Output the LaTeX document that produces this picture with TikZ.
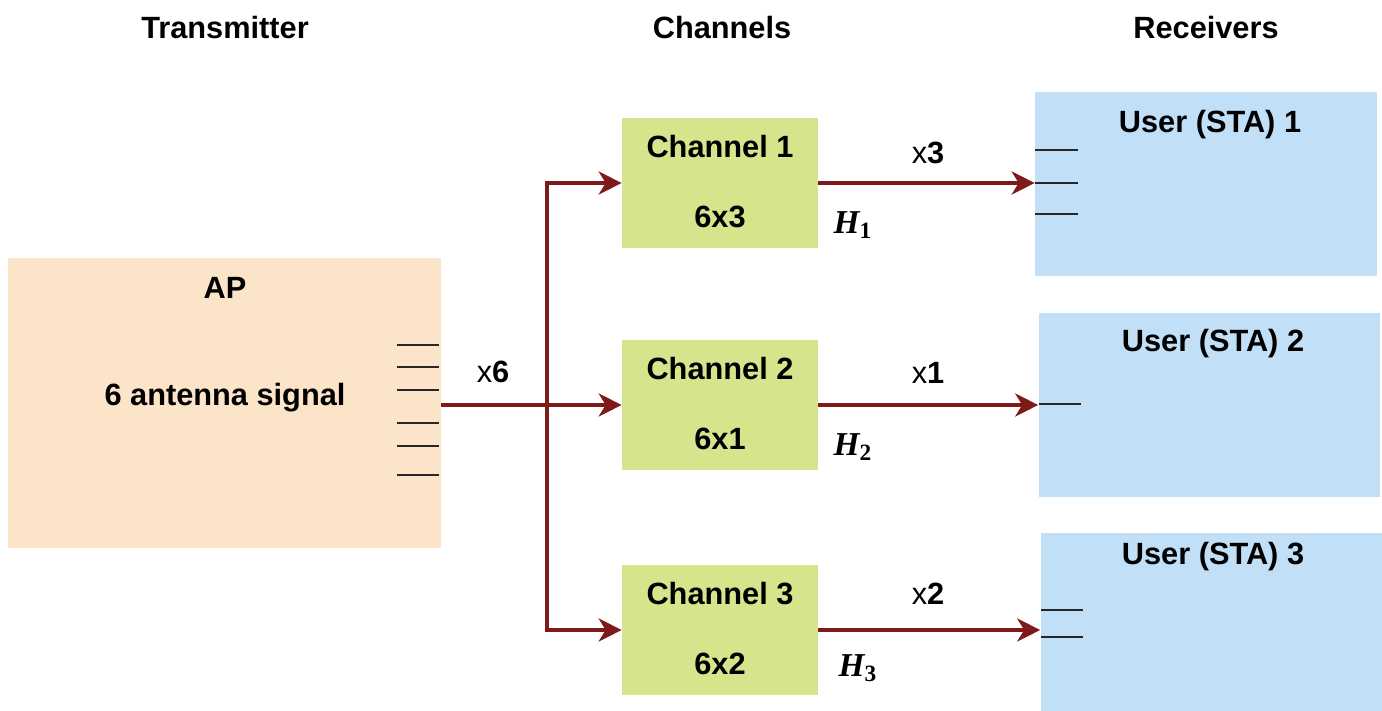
\documentclass[tikz,border=0pt]{standalone}
\usepackage{fontspec}
\setmainfont{Liberation Sans}
\newfontfamily\hfont{Liberation Serif}
\usetikzlibrary{arrows.meta}

\definecolor{apfill}{HTML}{FCE4C9}
\definecolor{chfill}{HTML}{D7E48B}
\definecolor{stafill}{HTML}{C1DFF6}
\definecolor{linkred}{HTML}{7E1A1A}

\newcommand{\hmat}[1]{{\hfont\bfseries\itshape H}\textsubscript{\hfont\bfseries #1}}

\tikzset{
  apbox/.style={fill=apfill, draw=none, minimum width=8.66cm, minimum height=5.8cm},
  chbox/.style={fill=chfill, draw=none, minimum width=3.92cm, minimum height=2.6cm},
  stabox/.style={fill=stafill, draw=none, minimum width=6.84cm, minimum height=#1},
  stabox/.default=3.68cm,
  link/.style={draw=linkred, line width=2.2pt},
  antenna/.style={draw=black!85, line width=1.2pt},
  hlabel/.style={font=\fontsize{19}{20}\selectfont}
}

\begin{document}
\begin{tikzpicture}[x=0.02cm, y=-0.02cm,
    >={Stealth[length=0.46cm, width=0.46cm, inset=0.14cm]},
    font=\fontsize{17.5}{20}\selectfont\bfseries]
  \useasboundingbox (0,0) rectangle (1382,710);

  % 1. titles
  \node (ttx) at (225,28) {Transmitter};
  \node (tch) at (722,28) {Channels};
  \node (trx) at (1206,28) {Receivers};

  % 2. AP
  \node[apbox] (ap) at (224.5,403) {};
  \node (aptitle) at (225,288) {AP};
  \node (apsig) at (225,398) {6 antenna signal};
  \foreach \y in {345,367,390,423,446,475}
    \draw[antenna] (397,\y) -- (439,\y);

  % 3. channels
  \foreach \i/\y/\d in {1/183/3, 2/405/1, 3/630/2} {
    \node[chbox] (ch\i) at (720,\y) {};
    \node (chname\i) at (720,\y-36) {Channel \i};
    \node (chdim\i) at (720,\y+34) {6x\d};
  }

  % 4. receivers
  \node[stabox] (u1) at (1206,184) {};
  \node[stabox] (u2) at (1209.5,405) {};
  \node[stabox=3.56cm] (u3) at (1211.5,622) {};
  \node (uname1) at (1210,125) {User (STA) 1};
  \node (uname2) at (1213,344) {User (STA) 2};
  \node (uname3) at (1213,557) {User (STA) 3};
  \foreach \y in {150,183,214}
    \draw[antenna] (1035,\y) -- (1078,\y);
  \draw[antenna] (1039,404) -- (1081,404);
  \foreach \y in {610,637}
    \draw[antenna] (1041,\y) -- (1083,\y);

  % 5. links
  \coordinate (split) at (547,405);
  \draw[link, ->] (ap.east |- ch2.west) -- (ch2.west);
  \draw[link, <->] (ch1.west) -| (split) |- (ch3.west);
  \draw[link, ->] (ch1.east) -- (ch1.east -| u1.west);
  \draw[link, ->] (ch2.east) -- (ch2.east -| u2.west);
  \draw[link, ->] (ch3.east) -- (ch3.east -| u3.west);

  % 6. labels
  \node (m6) at (493,372) {{\mdseries x}6};
  \node (m3) at (928,153) {{\mdseries x}3};
  \node (m1) at (928,373) {{\mdseries x}1};
  \node (m2) at (928,594) {{\mdseries x}2};
  \node[hlabel] (h1) at (853,225) {\hmat{1}};
  \node[hlabel] (h2) at (853,447) {\hmat{2}};
  \node[hlabel] (h3) at (858,668) {\hmat{3}};
\end{tikzpicture}
\end{document}
